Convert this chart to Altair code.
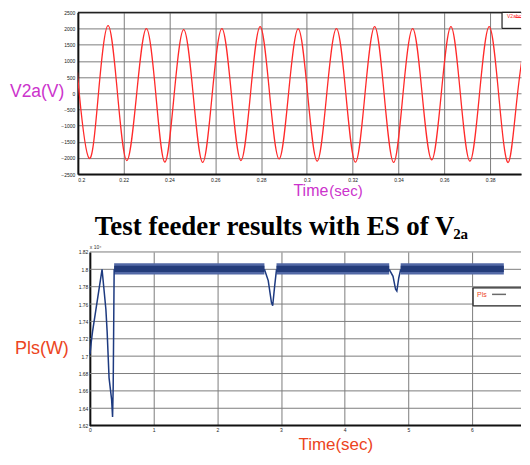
import altair as alt
import pandas as pd

# ---------------- Top panel: V2a(V) vs Time(sec) ----------------
t_v2a = [0.2000, 0.2006, 0.2049, 0.2090, 0.2132, 0.2173, 0.2214, 0.2257, 0.2299,
         0.2340, 0.2380, 0.2421, 0.2462, 0.2503, 0.2545, 0.2587, 0.2629, 0.2670,
         0.2712, 0.2754, 0.2796, 0.2837, 0.2879, 0.2920, 0.2962, 0.3003, 0.3045,
         0.3087, 0.3129, 0.3170, 0.3212, 0.3254, 0.3296, 0.3337, 0.3379, 0.3420,
         0.3462, 0.3503, 0.3545, 0.3587, 0.3629, 0.3670, 0.3712, 0.3754, 0.3796,
         0.3837, 0.3879, 0.3920, 0.3962, 0.3970]
v_v2a = [650, 0, -2010, 0, 2090, 0, -2080, 0, 2000,
         0, -2130, 0, 1970, 0, -2140, 0, 2000, 0,
         -2080, 0, 2060, 0, -2030, 0, 1990, 0, -2100,
         0, 2000, 0, -2130, 0, 2060, 0, -2140, 0,
         2000, 0, -2060, 0, 2060, 0, -2100, 0, 2060,
         0, -2140, 0, 2000, 1990]
v2a_ticks = [-2500, -2000, -1500, -1000, -500, 0, 500, 1000, 1500, 2000, 2500]
time_ticks_top = [0.2, 0.22, 0.24, 0.26, 0.28, 0.3, 0.32, 0.34, 0.36, 0.38]
top_domain = [0.2, 0.3935]

# ---------------- Bottom panel: Pls(W) vs Time(sec) ----------------
t_start = [0.0, 0.02, 0.04, 0.19, 0.25, 0.27, 0.30, 0.34, 0.355, 0.365, 0.38]
v_start = [1.702, 1.716, 1.728, 1.80, 1.754, 1.728, 1.675, 1.65, 1.63, 1.665, 1.80]
t_dip1 = [2.74, 2.80, 2.85, 2.87, 2.90, 2.93]
v_dip1 = [1.80, 1.787, 1.762, 1.758, 1.78, 1.80]
t_dip2 = [4.70, 4.76, 4.80, 4.82, 4.85, 4.88]
v_dip2 = [1.80, 1.792, 1.777, 1.775, 1.79, 1.80]
# steady-state oscillation band (envelope)
band_start = [0.38, 2.93, 4.88]
band_end = [2.74, 4.70, 6.50]
band_outer = [1.794, 1.807]
band_core = [1.797, 1.804]
pls_ticks = [1.62, 1.64, 1.66, 1.68, 1.70, 1.72, 1.74, 1.76, 1.78, 1.80, 1.82]
time_ticks_bot = [0, 1, 2, 3, 4, 5, 6]
bot_domain = [-0.19, 6.77]

SANS = "Liberation Sans"
SERIF = "Liberation Serif"
GRID = "#7c7c7c"
MAGENTA = "#cc33cc"
ORANGE = "#ec4422"
NAVY = "#1d3a80"

W = 444
HA = 162
HB = 174

one = pd.DataFrame({"a": [0]})


def label(txt, x, y, size, color, font=SANS, weight="normal", align="left"):
    return alt.Chart(one).mark_text(
        text=txt, font=font, fontSize=size, color=color, fontWeight=weight,
        align=align, baseline="alphabetic"
    ).encode(x=alt.value(x), y=alt.value(y))


def pxrule(x, x2, y, y2, color="#222", width=1.2):
    return alt.Chart(one).mark_rule(color=color, strokeWidth=width).encode(
        x=alt.value(x), x2=alt.value(x2), y=alt.value(y), y2=alt.value(y2))


def legend_box(x, y, y2):
    fill = alt.Chart(one).mark_rect(fill="white").encode(
        x=alt.value(x), x2=alt.value(W), y=alt.value(y), y2=alt.value(y2))
    return [fill, pxrule(x, W, y, y), pxrule(x, W, y2, y2), pxrule(x, x, y, y2)]


# ---------- top chart ----------
xA = alt.X("t:Q", scale=alt.Scale(domain=top_domain, nice=False, zero=False),
           axis=alt.Axis(values=time_ticks_top, format="~g", title=None, grid=True,
                         gridColor=GRID, gridWidth=1, domainColor="#111", domainWidth=2,
                         ticks=False, labelFontSize=5, labelPadding=3, labelColor="#222",
                         labelFont=SANS))
yA = alt.Y("v:Q", scale=alt.Scale(domain=[-2500, 2500], nice=False, zero=False),
           axis=alt.Axis(values=v2a_ticks, format="d", title=None, grid=True, gridColor=GRID,
                         gridWidth=1, domainColor="#111", domainWidth=2, ticks=False,
                         labelFontSize=5, labelPadding=3, labelColor="#222", labelFont=SANS))

top_df = pd.DataFrame({"t": t_v2a, "v": v_v2a})
lineA = alt.Chart(top_df).mark_line(color="#ff2a2a", strokeWidth=1.3, clip=True,
                                    interpolate="natural").encode(x=xA, y=yA)
frameA = alt.Chart(pd.DataFrame({"t": [top_domain[0]], "t2": [top_domain[1]], "v": [2500]})
                   ).mark_rule(color="#222", strokeWidth=1.5).encode(x=xA, x2="t2:Q", y=yA)
legA_txt = label("V2abc", 430, 6, 5, "#ff2a2a")
legA_line = pxrule(438.5, W, 5, 5, color="#ff2a2a", width=1)

A = alt.layer(
    lineA, frameA, *legend_box(425, 0, 16), legA_txt, legA_line,
    label("V2a(V)", -68, 85, 17.5, MAGENTA),
    label("Time", 216, 184, 16, MAGENTA),
    label("(sec)", 252, 184, 15, MAGENTA),
).properties(width=W, height=HA)

# ---------- bottom chart ----------
xB = alt.X("t:Q", scale=alt.Scale(domain=bot_domain, nice=False, zero=False),
           axis=alt.Axis(values=time_ticks_bot, format="d", title=None, grid=True,
                         gridColor=GRID, gridWidth=1, domain=False, ticks=False,
                         labelFontSize=5, labelPadding=2, labelColor="#222", labelFont=SANS))
yB = alt.Y("v:Q", scale=alt.Scale(domain=[1.62, 1.82], nice=False, zero=False),
           axis=alt.Axis(values=pls_ticks, format="~g", title=None, grid=False, offset=-12,
                         domainColor="#111", domainWidth=2, ticks=False, labelFontSize=5,
                         labelPadding=2, labelColor="#222", labelFont=SANS))

hgrid = alt.Chart(pd.DataFrame({"t": [0.0] * 10, "t2": [bot_domain[1]] * 10,
                                "v": pls_ticks[1:]})).mark_rule(
    color=GRID, strokeWidth=1).encode(x=xB, x2="t2:Q", y=yB)
baseB = alt.Chart(pd.DataFrame({"t": [0.0], "t2": [bot_domain[1]], "v": [1.62]})).mark_rule(
    color="#111", strokeWidth=2).encode(x=xB, x2="t2:Q", y=yB)

band_df = pd.DataFrame({"t": band_start, "t2": band_end,
                        "v": [band_outer[0]] * 3, "v2": [band_outer[1]] * 3})
core_df = pd.DataFrame({"t": band_start, "t2": band_end,
                        "v": [band_core[0]] * 3, "v2": [band_core[1]] * 3})
bandB = alt.Chart(band_df).mark_rect(color="#5369a6").encode(x=xB, x2="t2:Q", y=yB, y2="v2:Q")
coreB = alt.Chart(core_df).mark_rect(color="#243c7a").encode(x=xB, x2="t2:Q", y=yB, y2="v2:Q")

pls_df = pd.concat([
    pd.DataFrame({"t": t_start, "v": v_start, "seg": "start"}),
    pd.DataFrame({"t": t_dip1, "v": v_dip1, "seg": "dip1"}),
    pd.DataFrame({"t": t_dip2, "v": v_dip2, "seg": "dip2"}),
])
lineB = alt.Chart(pls_df).mark_line(color=NAVY, strokeWidth=1.5).encode(
    x=xB, y=yB, detail="seg:N")

legB_txt = label("Pls", 400, 45, 7, ORANGE)
legB_line = pxrule(415, 429, 42.5, 42.5, color="#6a6a6a", width=1.5)

B = alt.layer(
    hgrid, bandB, coreB, lineB, baseB, *legend_box(396, 36, 54), legB_txt, legB_line,
    label("x 10\u2074", 12, -3, 5, "#333"),
    label("Pls(W)", -63, 102, 18, ORANGE),
    label("Time(sec)", 221, 198, 17, ORANGE),
    label("Test feeder results with ES of V", 17, -16.5, 27, "#000", font=SERIF, weight="bold"),
    label("2a", 376, -12.5, 15, "#000", font=SERIF, weight="bold"),
).properties(width=W, height=HB)

chart = alt.vconcat(A, B, spacing=78, bounds="flush").properties(
    padding={"left": 2, "top": 2, "right": 0, "bottom": 0},
    background="white",
).configure_view(stroke=None)

chart.save("out.html", embed_options={"renderer": "svg", "actions": False})
